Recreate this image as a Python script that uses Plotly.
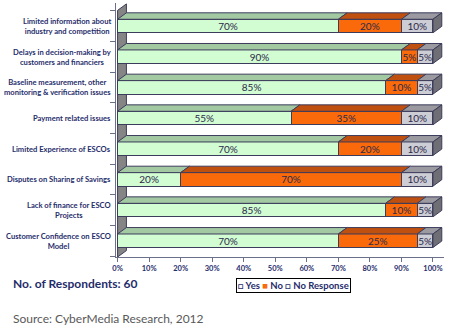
import plotly.graph_objects as go

categories = [
    "Limited information about<br>industry and competition",
    "Delays in decision-making by<br>customers and financiers",
    "Baseline measurement, other<br>monitoring & verification issues",
    "Payment related issues",
    "Limited Experience of ESCOs",
    "Disputes on Sharing of Savings",
    "Lack of finance for ESCO<br>Projects",
    "Customer Confidence on ESCO<br>Model",
]
yes = [70, 90, 85, 55, 70, 20, 85, 70]
no = [20, 5, 10, 35, 20, 70, 10, 25]
no_response = [10, 5, 5, 10, 10, 10, 5, 5]
x_ticks = [0, 10, 20, 30, 40, 50, 60, 70, 80, 90, 100]
x_tick_labels = [f"<b>{v}%</b>" for v in x_ticks]

# layout geometry
W, H = 452, 335
L, R, T, B = 116.4, 8, 3, 78
PW, PH = W - L - R, H - T - B
def px2x(p): return (p - L) / PW
def px2y(p): return (H - B - p) / PH

n = len(categories)
ys = [n - 1 - i for i in range(n)]
BW = 0.44          # front face thickness (y units)
DX, DY = 2.8, 0.21 # 3D depth offsets
YMIN, YMAX = -0.53, 7.75

NAVY = "#1F2D6B"
EDGE = "#3c3c5c"
FONT = "Lato"

series = [
    ("Yes", yes, "#D2FCD2", "#A3C9A3"),
    ("No", no, "#FA6A0A", "#C0500F"),
    ("No Response", no_response, "#CDCDD5", "#9A9AA0"),
]

fig = go.Figure()
for name, vals, col, _ in series:
    fig.add_trace(go.Bar(
        y=ys, x=vals, orientation="h", name=name, width=BW,
        marker=dict(color=col, line=dict(color=EDGE, width=1)),
        text=[f"{v}%" for v in vals], textposition="inside",
        insidetextanchor="middle", constraintext="none", textangle=0,
        textfont=dict(family=FONT, size=10, color="#2a2a4a"),
        showlegend=False, hoverinfo="skip",
    ))

shapes = []
# left wall
shapes.append(dict(type="path", xref="x", yref="y", layer="below",
                   path=f"M 0,{YMIN} L {DX},{YMIN+DY} L {DX},{YMAX-0.03} L 0,{YMAX-0.03-DY} Z",
                   fillcolor="#858585", line=dict(color=EDGE, width=1)))
# top faces and right side
for i in range(n):
    yt = ys[i] + BW / 2
    yb = ys[i] - BW / 2
    x0 = 0
    for name, vals, col, topcol in series:
        x1 = x0 + vals[i]
        shapes.append(dict(type="path", xref="x", yref="y", layer="above",
                           path=f"M {x0},{yt} L {x1},{yt} L {x1+DX},{yt+DY} L {x0+DX},{yt+DY} Z",
                           fillcolor=topcol, line=dict(color=EDGE, width=1)))
        x0 = x1
    shapes.append(dict(type="path", xref="x", yref="y", layer="above",
                       path=f"M {x0},{yb} L {x0},{yt} L {x0+DX},{yt+DY} L {x0+DX},{yb+DY} Z",
                       fillcolor="#6E6E74", line=dict(color=EDGE, width=1)))

annotations = []
for i, c in enumerate(categories):
    annotations.append(dict(text=f"<b>{c}</b>", xref="paper", yref="y",
                            x=px2x(113), y=ys[i], xanchor="right", yanchor="middle",
                            align="center", showarrow=False,
                            font=dict(family=FONT, size=7.6, color=NAVY)))
annotations.append(dict(text="<b>No. of Respondents: 60</b>", xref="paper", yref="paper",
                        x=px2x(12), y=px2y(283), xanchor="left", yanchor="middle",
                        showarrow=False, font=dict(family=FONT, size=12, color=NAVY)))
legend_text = ("<b>□ Yes <span style='color:#FA6A0A'>■</span> No □ No Response</b>")
annotations.append(dict(text=legend_text, xref="paper", yref="paper",
                        x=px2x(294), y=px2y(285.5), xanchor="center", yanchor="middle",
                        showarrow=False, bordercolor="#000000", borderwidth=1, borderpad=1,
                        font=dict(family=FONT, size=9.5, color=NAVY)))
annotations.append(dict(text="Source: CyberMedia Research, 2012", xref="paper", yref="paper",
                        x=px2x(12), y=px2y(318), xanchor="left", yanchor="middle",
                        showarrow=False, font=dict(family=FONT, size=12, color="#595959")))

fig.update_layout(
    barmode="stack",
    width=W, height=H,
    margin=dict(l=L, r=R, t=T, b=B, pad=0),
    paper_bgcolor="white", plot_bgcolor="white",
    shapes=shapes, annotations=annotations,
    xaxis=dict(range=[-0.5, 103.5], tickvals=x_ticks, ticktext=x_tick_labels,
               ticks="outside", ticklen=4, tickcolor="#6a6f8a",
               showline=True, linecolor="#6a6f8a", linewidth=1,
               showgrid=False, zeroline=False,
               tickfont=dict(family=FONT, size=7.5, color=NAVY)),
    yaxis=dict(range=[YMIN, YMAX], tickvals=[k + 0.5 for k in range(-1, n)],
               ticktext=["" for _ in range(-1, n)], ticks="outside", ticklen=5,
               tickcolor="#6a6f8a", showline=True, linecolor="#6a6f8a",
               showgrid=False, zeroline=False),
)

fig.write_html("out.html")
